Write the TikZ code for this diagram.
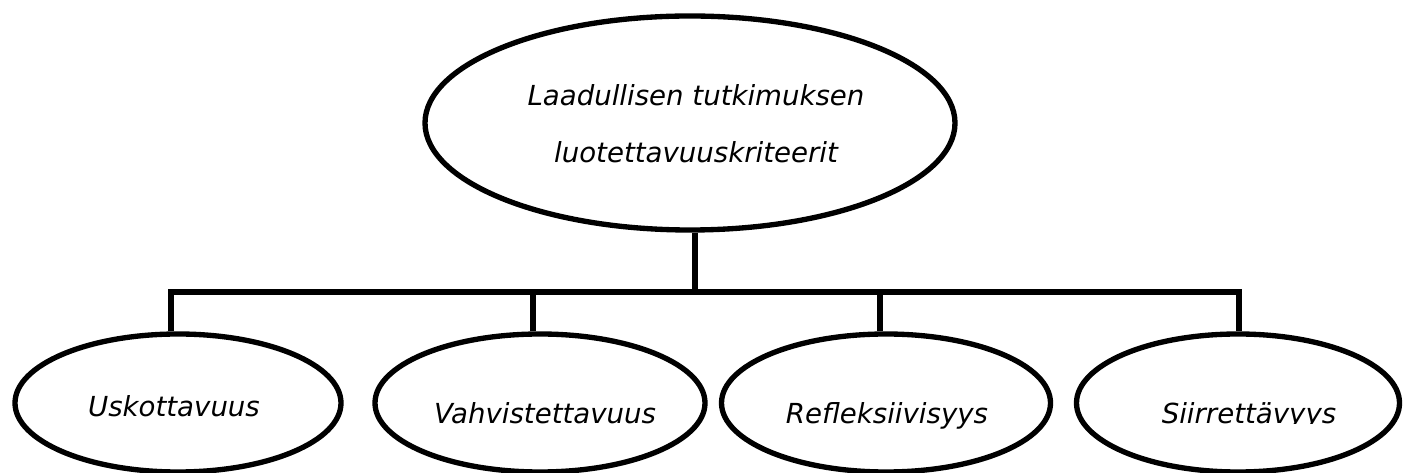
\documentclass[tikz,border=0pt]{standalone}
\usepackage{fontspec}
\setmainfont{DejaVu Sans}
\usetikzlibrary{shapes.geometric}

\begin{document}
\begin{tikzpicture}[
    x=0.75pt, y=-0.75pt,
    oval/.style={draw=black, line width=4pt, ellipse, inner sep=0pt, fill=white},
    lbl/.style={font=\fontsize{20.7}{42.75}\selectfont\itshape, inner sep=0pt, anchor=base},
    wire/.style={draw=black, line width=4pt, line join=miter}
  ]
  % canvas
  \useasboundingbox (0,0) rectangle (1403,473);

  % root criterion
  \node[oval, minimum width=530*0.75pt, minimum height=214*0.75pt] (root) at (690,123) {};
  \node[lbl] (rootA) at (696,106) {Laadullisen tutkimuksen};
  \node[lbl] (rootB) at (696,163) {luotettavuuskriteerit};

  % the four sub-criteria
  \node[oval, minimum width=326*0.75pt, minimum height=138*0.75pt] (c1) at (178,403) {};
  \node[oval, minimum width=330*0.75pt, minimum height=138*0.75pt] (c2) at (540,403) {};
  \node[oval, minimum width=329*0.75pt, minimum height=138*0.75pt] (c3) at (886,403) {};
  \node[oval, minimum width=323*0.75pt, minimum height=138*0.75pt] (c4) at (1238,403) {};

  \node[lbl] (t1) at (174,417) {Uskottavuus};
  \node[lbl] (t2) at (545,424) {Vahvistettavuus};
  \node[lbl] (t3) at (887,424) {Refleksiivisyys};
  % this label's text box cuts its descenders off at the baseline
  \begin{scope}
    \clip (1140,380) rectangle (1360,423.5);
    \node[lbl] (t4) at (1249,424) {Siirrettävyys};
  \end{scope}

  % branching connector
  \coordinate (stem) at (695,292);
  \coordinate (d1) at (171,292);
  \coordinate (d2) at (533,292);
  \coordinate (d3) at (880,292);
  \coordinate (d4) at (1239,292);

  \draw[wire] (stem |- root.south) -- (stem);
  \draw[wire] (d1 |- c1.north) -- (d1) -- (d4) -- (d4 |- c4.north);
  \draw[wire] (d2) -- (d2 |- c2.north);
  \draw[wire] (d3) -- (d3 |- c3.north);
\end{tikzpicture}
\end{document}
